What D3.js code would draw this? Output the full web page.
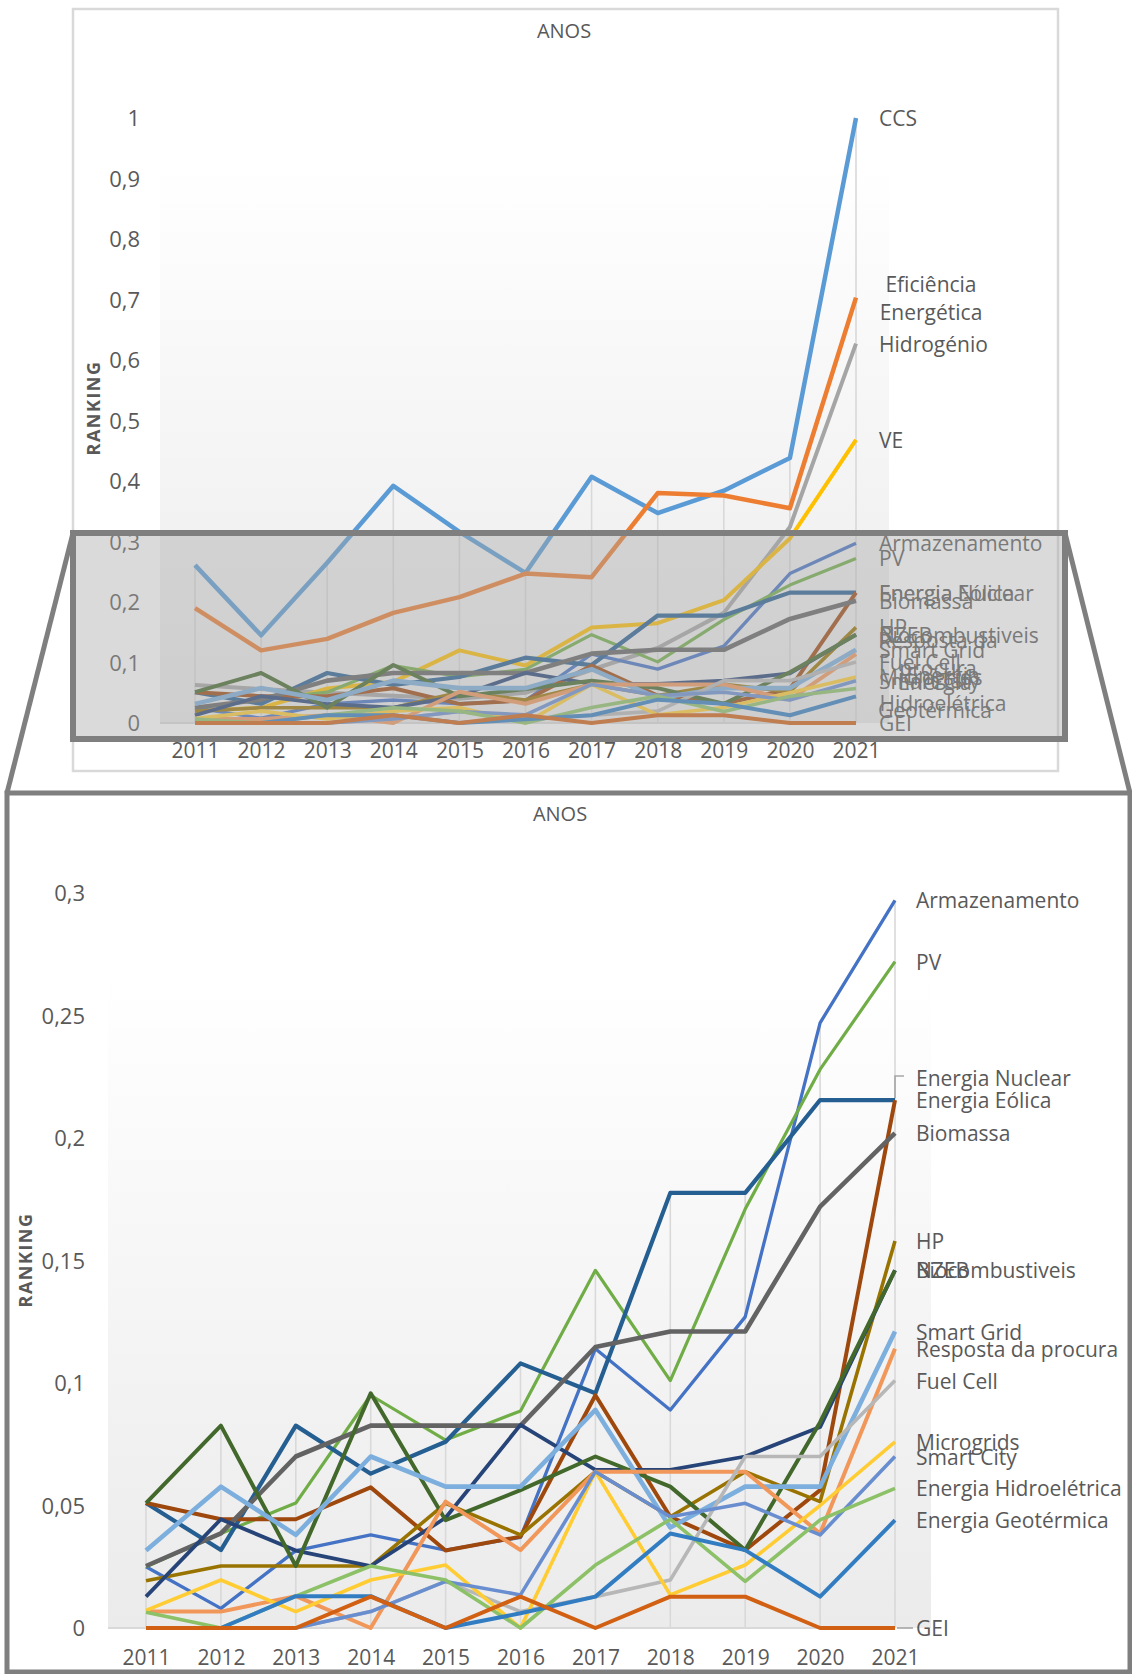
<!DOCTYPE html>
<html>
<head>
<meta charset="utf-8">
<script src="https://cdn.jsdelivr.net/npm/d3@7"></script>
<style>
  body { margin: 0; background: #fff; }
  svg text { font-family: 'Open Sans', sans-serif; }
</style>
</head>
<body>
<svg id="chart" width="1132" height="1674"></svg>
<script>
// ---- data -------------------------------------------------------------
const years = [2011, 2012, 2013, 2014, 2015, 2016, 2017, 2018, 2019, 2020, 2021];

const ccs            = [0.261, 0.145, 0.265, 0.392, 0.316, 0.248, 0.407, 0.347, 0.384, 0.438, 1.0];
const eficiencia     = [0.190, 0.120, 0.139, 0.182, 0.208, 0.247, 0.241, 0.380, 0.376, 0.355, 0.703];
const hidrogenio     = [0.063, 0.056, 0.050, 0.045, 0.040, 0.050, 0.088, 0.124, 0.182, 0.324, 0.627];
const ve             = [0.020, 0.025, 0.057, 0.068, 0.120, 0.095, 0.158, 0.165, 0.203, 0.305, 0.468];
const armazenamento  = [0.025, 0.008, 0.0316, 0.038, 0.0318, 0.037, 0.114, 0.089, 0.127, 0.247, 0.297];
const pv             = [0.025, 0.0386, 0.051, 0.095, 0.0767, 0.0886, 0.146, 0.101, 0.171, 0.228, 0.272];
const nuclear        = [0.051, 0.0318, 0.0826, 0.063, 0.076, 0.108, 0.0958, 0.1776, 0.1776, 0.2155, 0.2155];
const eolica         = [0.051, 0.0444, 0.0444, 0.0574, 0.0316, 0.0373, 0.095, 0.0454, 0.0318, 0.0563, 0.2155];
const biomassa       = [0.0253, 0.0386, 0.070, 0.0826, 0.0826, 0.0826, 0.1147, 0.121, 0.121, 0.172, 0.202];
const hp             = [0.0193, 0.0253, 0.0253, 0.0253, 0.0509, 0.038, 0.0638, 0.0454, 0.0638, 0.0516, 0.158];
const nzeb           = [0.0128, 0.0444, 0.0316, 0.0253, 0.045, 0.0829, 0.0645, 0.0645, 0.070, 0.082, 0.146];
const biocomb        = [0.051, 0.0826, 0.0253, 0.0958, 0.044, 0.0563, 0.070, 0.0577, 0.0318, 0.084, 0.146];
const smartGrid      = [0.0316, 0.0577, 0.038, 0.070, 0.0577, 0.0577, 0.089, 0.041, 0.0577, 0.0577, 0.121];
const resposta       = [0.0067, 0.0067, 0.013, 0, 0.0516, 0.0318, 0.0638, 0.0638, 0.0638, 0.0386, 0.114];
const fuelCell       = [0, 0, 0, 0.0067, 0.019, 0.0067, 0.0128, 0.0196, 0.070, 0.070, 0.101];
const microgrids     = [0.0072, 0.0196, 0.0067, 0.0196, 0.0257, 0, 0.0638, 0.0135, 0.0257, 0.050, 0.076];
const smartCity      = [0, 0, 0, 0.0067, 0.019, 0.0135, 0.0638, 0.0454, 0.0509, 0.038, 0.070];
const hidroeletrica  = [0.0064, 0, 0.013, 0.0253, 0.0196, 0, 0.0257, 0.0444, 0.019, 0.0441, 0.057];
const geotermica     = [0, 0, 0.013, 0.013, 0, 0.006, 0.0128, 0.0386, 0.0318, 0.0128, 0.044];
const gei            = [0, 0, 0, 0.0128, 0, 0.0128, 0, 0.0128, 0.0128, 0, 0];

const seriesNames = [
  "CCS", "Eficiência Energética", "Hidrogénio", "VE", "Armazenamento", "PV",
  "Energia Nuclear", "Energia Eólica", "Biomassa", "HP", "NZEB", "Biocombustiveis",
  "Smart Grid", "Resposta da procura", "Fuel Cell", "Microgrids", "Smart City",
  "Energia Hidroelétrica", "Energia Geotérmica", "GEI"
];
const seriesValues = [
  ccs, eficiencia, hidrogenio, ve, armazenamento, pv,
  nuclear, eolica, biomassa, hp, nzeb, biocomb,
  smartGrid, resposta, fuelCell, microgrids, smartCity,
  hidroeletrica, geotermica, gei
];

const ticksFull = [0, 0.1, 0.2, 0.3, 0.4, 0.5, 0.6, 0.7, 0.8, 0.9, 1];
const ticksZoom = [0, 0.05, 0.1, 0.15, 0.2, 0.25, 0.3];

// ---- styling ----------------------------------------------------------
const palette = [
  "#5B9BD5", "#ED7D31", "#A5A5A5", "#FFC000", "#4472C4", "#70AD47",
  "#255E91", "#9E480E", "#636363", "#997300", "#264478", "#43682B",
  "#7CAFDD", "#F1975A", "#B7B7B7", "#FFCD33", "#698ED0", "#8CC168",
  "#327DC2", "#D26012"
];
const strokeW = [4.5, 4.5, 4, 4, 3.3, 3.2, 4.2, 4, 4.6, 3.6, 3.8, 4,
                 4.6, 4, 3.6, 3.6, 3.6, 3.6, 4, 4];

const table = seriesNames.map((name, i) => ({
  name, color: palette[i], width: strokeW[i],
  values: years.map((yr, j) => ({ year: yr, v: seriesValues[i][j] }))
}));

const textColor = "#595959";
const svg = d3.select("#chart");
svg.append("rect").attr("width", 1132).attr("height", 1674).attr("fill", "#fff");

const defs = svg.append("defs");
const grad = defs.append("linearGradient").attr("id", "plotFill")
  .attr("x1", 0).attr("y1", 0).attr("x2", 0).attr("y2", 1);
grad.append("stop").attr("offset", "0%").attr("stop-color", "#ffffff");
grad.append("stop").attr("offset", "100%").attr("stop-color", "#ebebeb");

const fmt = v => String(+v.toFixed(2)).replace(".", ",");

function drawChart(g, o) {
  const x = d3.scalePoint().domain(years).range(o.xRange);
  const y = d3.scaleLinear().domain(o.yDomain).range(o.yRange);

  // plot area
  g.append("rect")
    .attr("x", o.plot[0]).attr("y", o.plot[1])
    .attr("width", o.plot[2] - o.plot[0]).attr("height", y(0) - o.plot[1])
    .attr("fill", "url(#plotFill)");

  // title
  g.append("text").attr("x", o.titleX).attr("y", o.titleY)
    .attr("text-anchor", "middle").attr("dominant-baseline", "central")
    .attr("font-size", 20).attr("fill", textColor).text("ANOS");

  // y axis title
  g.append("text")
    .attr("transform", `translate(${o.rankX},${o.rankY}) rotate(-90)`)
    .attr("text-anchor", "middle").attr("dominant-baseline", "central")
    .attr("font-size", 18).attr("font-weight", "bold")
    .attr("letter-spacing", 1.5).attr("fill", textColor).text("RANKING");

  // y axis labels
  const ya = g.append("g").attr("transform", `translate(${o.tickX},0)`)
    .call(d3.axisLeft(y).tickValues(o.ticks).tickFormat(fmt).tickSize(0).tickPadding(0));
  ya.select(".domain").remove();
  ya.attr("font-family", "'Open Sans', sans-serif").attr("font-size", 22);
  ya.selectAll("text").attr("fill", textColor).attr("dy", "0.35em");

  // x axis labels
  const xa = g.append("g").attr("transform", `translate(0,${o.yearY})`)
    .call(d3.axisBottom(x).tickSize(0).tickPadding(0).tickFormat(d => d));
  xa.select(".domain").remove();
  xa.attr("font-family", "'Open Sans', sans-serif").attr("font-size", 21);
  xa.selectAll("text").attr("fill", textColor).attr("y", 0).attr("dy", "0.35em");

  const rows = table.filter((d, i) => o.series.includes(i));

  // baseline
  g.append("line").attr("x1", o.plot[0]).attr("x2", o.xRange[1])
    .attr("y1", y(0)).attr("y2", y(0))
    .attr("stroke", "#d9d9d9").attr("stroke-width", 2);

  // drop lines from the highest point of each year
  years.forEach((yr, j) => {
    const mx = d3.max(rows, r => r.values[j].v);
    g.append("line").attr("x1", x(yr)).attr("x2", x(yr))
      .attr("y1", y(mx)).attr("y2", y(0))
      .attr("stroke", "#d9d9d9").attr("stroke-width", 1.6);
  });

  // series
  const line = d3.line().x(d => x(d.year)).y(d => y(d.v));
  g.append("g").selectAll("path").data(rows).join("path")
    .attr("d", d => line(d.values))
    .attr("fill", "none")
    .attr("stroke", d => d.color)
    .attr("stroke-width", d => d.width)
    .attr("stroke-linejoin", "round");

  // end labels
  const lx = o.labelX;
  rows.forEach(r => {
    const last = r.values[r.values.length - 1];
    const spec = (o.labelSpec[r.name]) || {};
    const lines = spec.lines || [r.name];
    const cy = y(last.v) + (spec.dy || 0);
    const lh = 28;
    const t = g.append("text")
      .attr("font-size", 21).attr("fill", textColor)
      .attr("dominant-baseline", "central");
    if (lines.length > 1) {
      const w = spec.w;
      t.attr("text-anchor", "middle");
      lines.forEach((s, k) => {
        t.append("tspan").attr("x", lx + w / 2)
          .attr("y", cy + (k - (lines.length - 1) / 2) * lh).text(s);
      });
    } else {
      t.attr("x", lx).attr("y", cy).text(lines[0]);
    }
    if (spec.leader) {
      g.append("path").attr("d", spec.leader(x(last.year), y(last.v), cy))
        .attr("fill", "none").attr("stroke", "#a6a6a6").attr("stroke-width", 1.6);
    }
  });
  return { x, y };
}

// ---- full chart ------------------------------------------------------
const topPanel = svg.append("g");
topPanel.append("rect").attr("x", 73).attr("y", 9).attr("width", 985).attr("height", 762)
  .attr("fill", "#fff").attr("stroke", "#d9d9d9").attr("stroke-width", 2.5);

drawChart(topPanel, {
  xRange: [195, 856], yDomain: [0, 1], yRange: [723, 118],
  plot: [160, 160, 889], ticks: ticksFull, tickX: 140, yearY: 751,
  titleX: 564, titleY: 30, rankX: 93, rankY: 408,
  series: d3.range(20), labelX: 879,
  labelSpec: {
    "Eficiência Energética": { lines: ["Eficiência", "Energética"], w: 104 },
    "Resposta da procura": { lines: ["Resposta da", "procura"], w: 118 },
    "Energia Hidroelétrica": { lines: ["Energia", "Hidroelétrica"], w: 128 },
    "Energia Geotérmica": { lines: ["Energia", "Geotérmica"], w: 112 }
  }
});

// magnified region marker
const callout = svg.append("g");
callout.append("line").attr("x1", 73).attr("y1", 533).attr("x2", 7).attr("y2", 793)
  .attr("stroke", "#7f7f7f").attr("stroke-width", 5);
callout.append("line").attr("x1", 1065).attr("y1", 533).attr("x2", 1130).attr("y2", 793)
  .attr("stroke", "#7f7f7f").attr("stroke-width", 5);
callout.append("rect").attr("x", 73).attr("y", 533).attr("width", 992).attr("height", 206)
  .attr("fill", "#a6a6a6").attr("fill-opacity", 0.42)
  .attr("stroke", "#7f7f7f").attr("stroke-width", 6);

// ---- magnified chart -------------------------------------------------
const bottomPanel = svg.append("g");
bottomPanel.append("rect").attr("x", 7).attr("y", 793).attr("width", 1123).attr("height", 879)
  .attr("fill", "#fff").attr("stroke", "#7f7f7f").attr("stroke-width", 5);

drawChart(bottomPanel, {
  xRange: [146, 895], yDomain: [0, 0.3], yRange: [1628, 893],
  plot: [108, 977, 931], ticks: ticksZoom, tickX: 85, yearY: 1658,
  titleX: 560, titleY: 813, rankX: 25, rankY: 1260,
  series: d3.range(4, 20), labelX: 916,
  labelSpec: {
    "Energia Nuclear": { dy: -22,
      leader: (px, py, cy) => `M${px},${py - 2}V${cy - 2}H${px + 9}` },
    "GEI": { leader: (px, py) => `M${px + 2},${py}H${px + 18}` }
  }
});
</script>
</body>
</html>
